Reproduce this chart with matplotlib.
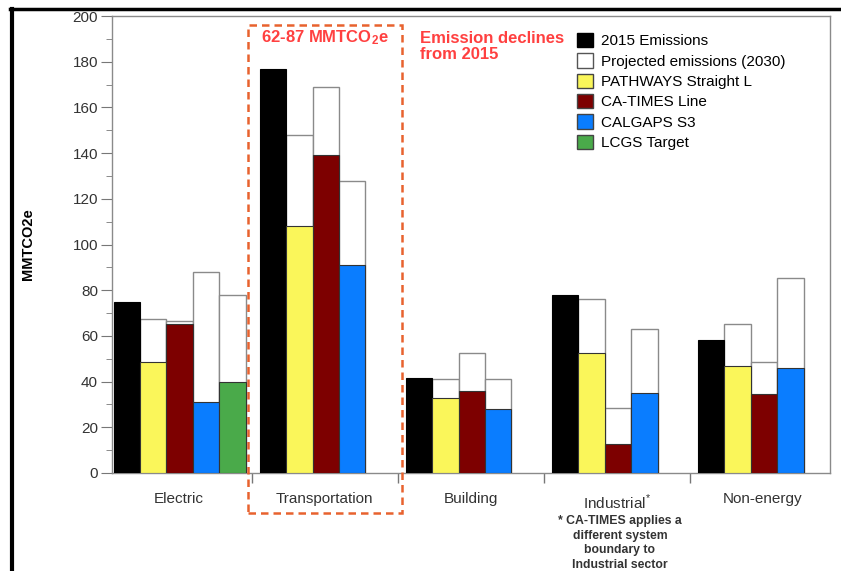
import matplotlib
matplotlib.use("Agg")
import matplotlib.pyplot as plt
from matplotlib.patches import Patch, Rectangle
from matplotlib.lines import Line2D

plt.rcParams['font.family'] = ['Liberation Sans', 'DejaVu Sans']
plt.rcParams['mathtext.fontset'] = 'custom'
plt.rcParams['mathtext.rm'] = 'Liberation Sans'
plt.rcParams['mathtext.bf'] = 'Liberation Sans:bold'

# sectors
sectors = ['Electric', 'Transportation', 'Building', 'Industrial$^{*}$', 'Non-energy']

# 2015 emissions (black bars)
emis_2015 = [75, 177, 41.5, 78, 58]

# scenario order: PATHWAYS, CA-TIMES, CALGAPS, LCGS
scenarios = ['PATHWAYS Straight L', 'CA-TIMES Line', 'CALGAPS S3', 'LCGS Target']
scen_colors = ['#FAF65A', '#7D0000', '#0A7DFF', '#4AAA4A']

# projected 2030 emissions per scenario (white bars), None = no bar
projected = [
    [67.5, 148, 41, 76, 65],
    [66.5, 169, 52.5, 28.5, 48.5],
    [88, 128, 41, 63, 85.5],
    [78, None, None, None, None],
]
# emission declines / scenario target (coloured bars)
targets = [
    [48.5, 108, 33, 52.5, 47],
    [65, 139, 36, 12.5, 34.5],
    [31, 91, 28, 35, 46],
    [40, None, None, None, None],
]

fig = plt.figure(figsize=(8.41, 5.71), dpi=100)
ax = fig.add_axes([112 / 841, 98 / 571, 718 / 841, 457 / 571])

bw = 0.181
off = 0.055

for i in range(len(sectors)):
    x0 = i - 0.5 + off
    ax.bar(x0 + bw * 0.5, emis_2015[i], width=bw, color='black', edgecolor='black', lw=0.8, zorder=3)
    for k in range(len(scenarios)):
        if projected[k][i] is None:
            continue
        xc = x0 + bw * (k + 1.5)
        ax.bar(xc, projected[k][i], width=bw, color='white', edgecolor='#8a8a8a', lw=1.0, zorder=2)
        ax.bar(xc, targets[k][i], width=bw, color=scen_colors[k], edgecolor='#333333', lw=0.8, zorder=3)

ax.set_xlim(-0.456, 4.46)
ax.set_ylim(0, 200)
ax.set_yticks(range(0, 201, 20))
ax.set_yticks(range(10, 200, 20), minor=True)
ax.set_xticks(range(len(sectors)))
ax.set_xticklabels(sectors, fontsize=11, color='#333333')
ax.set_xticks([0.5, 1.5, 2.5, 3.5], minor=True)
ax.tick_params(axis='x', which='major', length=0, pad=14)
ax.tick_params(axis='x', which='minor', length=7, color='#777777', width=1)
ax.tick_params(axis='y', which='major', length=8, color='#777777', labelsize=11, labelcolor='#333333', pad=2)
ax.tick_params(axis='y', which='minor', length=4, color='#777777')
for s in ax.spines.values():
    s.set_color('#8a8a8a')
    s.set_linewidth(1.0)

ax.set_ylabel('MMTCO2e', fontsize=10.5, fontweight='bold', labelpad=27)

# dashed box around transportation
box = Rectangle((0.473, -17.3), 1.057, 213.2, fill=False, edgecolor='#E8622E', lw=1.8,
                linestyle=(0, (3, 2)), clip_on=False, zorder=5)
ax.add_patch(box)
ax.text(1.0, 190.5, '62-87 MMTCO$\\mathbf{_2}$e', color='#FF4040', fontsize=12, fontweight='bold',
        ha='center', va='center')
ax.text(1.65, 186.5, 'Emission declines\nfrom 2015', color='#FF4040', fontsize=12, fontweight='bold',
        ha='left', va='center', linespacing=1.1)

handles = [Patch(facecolor='black', edgecolor='black'),
           Patch(facecolor='white', edgecolor='#555555')]
handles += [Patch(facecolor=c, edgecolor='#444444') for c in scen_colors]
labels = ['2015 Emissions', 'Projected emissions (2030)'] + scenarios
fig.legend(handles, labels, loc='upper left', bbox_to_anchor=(577 / 841, 1 - 33 / 571),
           frameon=False, fontsize=11, handlelength=1.05, handleheight=1.05,
           handletextpad=0.55, labelspacing=0.33, borderpad=0, borderaxespad=0)

fig.text(620 / 841, 1 - 543 / 571, '* CA-TIMES applies a\ndifferent system\nboundary to\nIndustrial sector',
         ha='center', va='center', fontsize=8.8, fontweight='bold', color='#333333', linespacing=1.3)

# screenshot border
fig.add_artist(Line2D([10 / 841, 1], [1 - 8.5 / 571, 1 - 8.5 / 571], color='black', lw=2.5,
                      transform=fig.transFigure))
fig.add_artist(Line2D([12 / 841, 12 / 841], [0, 1 - 8.5 / 571], color='black', lw=3,
                      transform=fig.transFigure))

fig.savefig('out.png', dpi=100)
